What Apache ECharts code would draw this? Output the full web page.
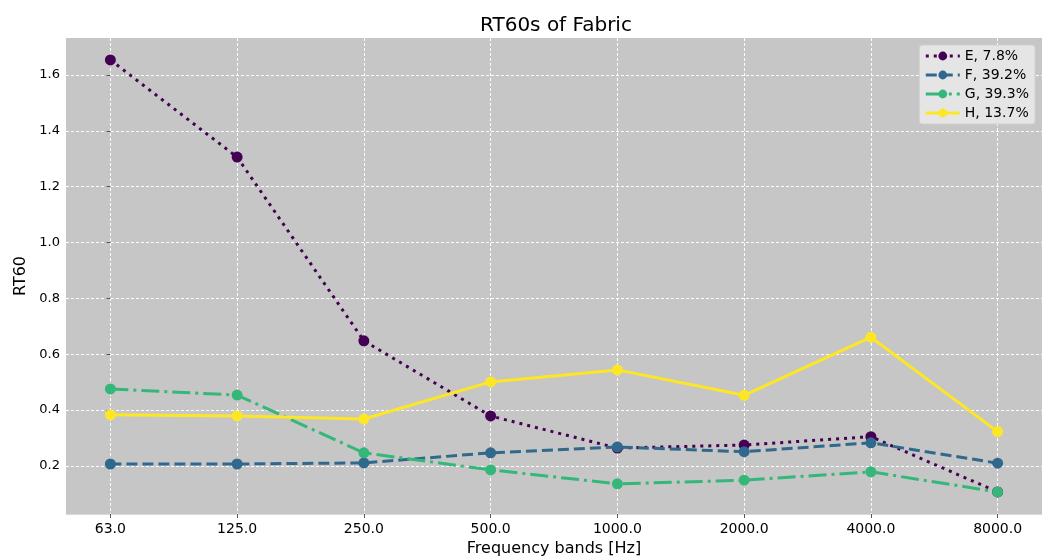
<!DOCTYPE html>
<html><head><meta charset="utf-8">
<script src="https://cdn.jsdelivr.net/npm/echarts@6/dist/echarts.min.js"></script>
<style>html,body{margin:0;padding:0;background:#fff}#c{width:1049px;height:559px}</style>
</head><body><div id="c"></div>
<script>
const categories = ['63.0','125.0','250.0','500.0','1000.0','2000.0','4000.0','8000.0'];
const seriesNames = ['E, 7.8%','F, 39.2%','G, 39.3%','H, 13.7%'];
const valuesE = [1.654, 1.306, 0.648, 0.379, 0.264, 0.275, 0.305, 0.107];
const valuesF = [0.207, 0.207, 0.211, 0.247, 0.268, 0.251, 0.283, 0.210];
const valuesG = [0.476, 0.454, 0.247, 0.186, 0.136, 0.149, 0.179, 0.107];
const valuesH = [0.383, 0.379, 0.368, 0.501, 0.544, 0.453, 0.661, 0.323];
const yTicks = [0.2, 0.4, 0.6, 0.8, 1.0, 1.2, 1.4, 1.6];
const colors = ['#440154', '#31688e', '#35b779', '#fde725'];
const dashes = [[3,5],[11,5],[18,5,3,5],'solid'];
const allValues = [valuesE, valuesF, valuesG, valuesH];

const font = 'DejaVu Sans';
const chart = echarts.init(document.getElementById('c'), null, {renderer:'canvas'});
const xIdx = categories.map((_, i) => i);
chart.setOption({
  animation: false,
  backgroundColor: '#ffffff',
  textStyle: {fontFamily: font},
  title: {text: 'RT60s of Fabric', left: 475, top: 11,
    textStyle: {fontFamily: font, fontSize: 20, fontWeight: 'normal', color: '#000'}},
  grid: {left: 66, right: 7, top: 38, bottom: 45, show: true, backgroundColor: '#c6c6c6', borderWidth: 0,
    outerBoundsMode: 'none', containLabel: false},
  legend: {
    right: 14, top: 45, orient: 'vertical', itemGap: 5, itemWidth: 34, itemHeight: 11,
    backgroundColor: '#e5e5e5', borderColor: '#d0d0d0', borderWidth: 1, borderRadius: 3,
    padding: [4, 6, 4, 5],
    lineStyle: {width: 3},
    textStyle: {fontFamily: font, fontSize: 14, color: '#000'},
    data: seriesNames
  },
  xAxis: {
    type: 'value', min: -0.35, max: 7.35,
    name: 'Frequency bands [Hz]', nameLocation: 'middle', nameGap: 26,
    nameTextStyle: {fontFamily: font, fontSize: 16, color: '#000'},
    axisLine: {show: true, lineStyle: {color: '#d9d9d9', width: 1}},
    axisTick: {show: true, customValues: xIdx, length: 4, lineStyle: {color: '#555'}},
    axisLabel: {customValues: xIdx, formatter: v => categories[Math.round(v)], fontFamily: font, fontSize: 14, color: '#000', margin: 8},
    splitLine: {show: true, lineStyle: {color: '#ffffff', type: [3, 2], width: 1}}
  },
  yAxis: {
    type: 'value', min: 0.028, max: 1.7325,
    name: 'RT60', nameLocation: 'middle', nameGap: 35,
    nameTextStyle: {fontFamily: font, fontSize: 16, color: '#000'},
    axisLine: {show: false},
    axisTick: {show: true, customValues: yTicks, length: 4, lineStyle: {color: '#555'}},
    axisLabel: {customValues: yTicks, formatter: v => v.toFixed(1), fontFamily: font, fontSize: 13, color: '#000', margin: 6},
    splitLine: {show: true, lineStyle: {color: '#ffffff', type: [3, 2], width: 1}}
  },
  series: allValues.map((vals, k) => ({
    name: seriesNames[k], type: 'line',
    data: vals.map((v, i) => [i, v]),
    symbol: 'circle', symbolSize: 11,
    itemStyle: {color: colors[k]},
    lineStyle: {color: colors[k], width: 3, type: dashes[k]},
    z: 2 + k
  }))
});
</script></body></html>
